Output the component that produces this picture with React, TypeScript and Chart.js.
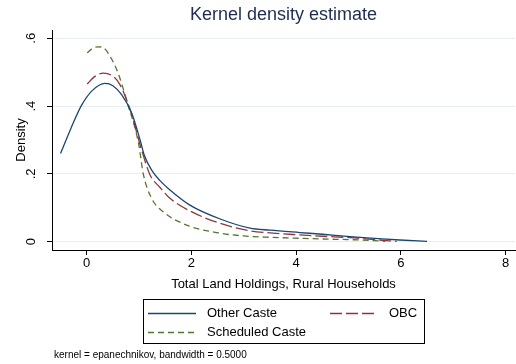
import React, { useEffect, useRef } from "react";
import { Chart, registerables } from "chart.js";

Chart.register(...registerables);

const OTHER_X = [-0.5, -0.3, -0.1, 0.1, 0.35, 0.5, 0.67, 0.86, 1.02, 1.1, 1.24, 1.4, 1.59, 1.97, 2.55, 3.12, 3.5, 4.07, 4.5, 5.03, 5.5, 5.98, 6.5];
const OTHER_Y = [0.26, 0.335, 0.402, 0.445, 0.467, 0.46, 0.433, 0.379, 0.3, 0.255, 0.211, 0.18, 0.1525, 0.108, 0.067, 0.04, 0.034, 0.027, 0.022, 0.015, 0.01, 0.005, 0.001];

const OBC_X = [0.01, 0.15, 0.32, 0.51, 0.64, 0.83, 1.05, 1.21, 1.4, 1.59, 2.0, 2.55, 3.12, 3.5, 4.07, 4.5, 5.03, 5.5, 5.92];
const OBC_Y = [0.465, 0.487, 0.497, 0.487, 0.462, 0.389, 0.27, 0.197, 0.16, 0.128, 0.0885, 0.054, 0.032, 0.026, 0.02, 0.016, 0.012, 0.006, 0.001];

const SC_X = [0.01, 0.1, 0.22, 0.33, 0.45, 0.6, 0.76, 0.99, 1.08, 1.24, 1.46, 1.91, 2.55, 3.0, 3.5, 4.07, 4.5, 5.03, 5.5, 5.7];
const SC_Y = [0.557, 0.569, 0.575, 0.571, 0.546, 0.497, 0.418, 0.29, 0.2, 0.128, 0.0885, 0.049, 0.025, 0.017, 0.013, 0.01, 0.008, 0.006, 0.003, 0.001];

const SERIES_NAMES = ["Other Caste", "OBC", "Scheduled Caste"];
const X_TICKS = [0, 2, 4, 6, 8];
const Y_TICKS = [0, 0.2, 0.4, 0.6];
const Y_TICK_LABELS = ["0", ".2", ".4", ".6"];
const TITLE = "Kernel density estimate";
const X_TITLE = "Total Land Holdings, Rural Households";
const Y_TITLE = "Density";
const NOTE = "kernel = epanechnikov, bandwidth = 0.5000";

const FONT = '"Liberation Sans", Arial, sans-serif';

const pts = (xs: number[], ys: number[]) => xs.map((x, i) => ({ x, y: ys[i] }));

const overlay = {
  id: "overlay",
  afterDraw(chart: any) {
    const ctx = chart.ctx;
    const ys = chart.scales.y;
    const ca = chart.chartArea;
    ctx.save();
    // title
    ctx.fillStyle = "#1e2d4f";
    ctx.font = `18px ${FONT}`;
    ctx.textAlign = "center";
    ctx.textBaseline = "middle";
    ctx.fillText(TITLE, (ca.left + ca.right) / 2, 15);

    // y tick labels rotated
    ctx.fillStyle = "#000";
    ctx.font = `13px ${FONT}`;
    Y_TICKS.forEach((v, i) => {
      const py = ys.getPixelForValue(v);
      ctx.save();
      ctx.translate(31, py);
      ctx.rotate(-Math.PI / 2);
      ctx.fillText(Y_TICK_LABELS[i], 0, 0);
      ctx.restore();
    });
    // y title
    ctx.save();
    ctx.translate(21, (ca.top + ca.bottom) / 2);
    ctx.rotate(-Math.PI / 2);
    ctx.fillText(Y_TITLE, 0, 0);
    ctx.restore();
    // x title
    ctx.fillText(X_TITLE, (ca.left + ca.right) / 2, 284);

    // legend box
    ctx.strokeStyle = "#000";
    ctx.lineWidth = 1;
    ctx.strokeRect(143.5, 299.5, 281, 44);
    const items = [
      { ds: 0, x: 148, y: 313 },
      { ds: 1, x: 330, y: 313 },
      { ds: 2, x: 148, y: 332 },
    ];
    items.forEach((it) => {
      const ds = chart.data.datasets[it.ds];
      ctx.save();
      ctx.strokeStyle = ds.borderColor;
      ctx.lineWidth = ds.borderWidth;
      ctx.setLineDash(ds.borderDash || []);
      ctx.beginPath();
      ctx.moveTo(it.x, it.y + 0.5);
      ctx.lineTo(it.x + 48, it.y + 0.5);
      ctx.stroke();
      ctx.restore();
      ctx.fillStyle = "#000";
      ctx.textAlign = "left";
      ctx.fillText(ds.label, it.x + 59, it.y);
    });

    // note
    ctx.font = `10px ${FONT}`;
    ctx.textAlign = "left";
    ctx.fillText(NOTE, 54, 355);
    ctx.restore();
  },
};

export default function App() {
  const ref = useRef<HTMLCanvasElement>(null);
  useEffect(() => {
    if (!ref.current) return;
    Chart.defaults.font.family = FONT;
    const chart = new Chart(ref.current, {
      type: "line",
      data: {
        datasets: [
          {
            label: SERIES_NAMES[0],
            data: pts(OTHER_X, OTHER_Y),
            borderColor: "#1a476f",
            borderWidth: 1.3,
            pointRadius: 0,
            cubicInterpolationMode: "monotone",
          },
          {
            label: SERIES_NAMES[1],
            data: pts(OBC_X, OBC_Y),
            borderColor: "#90353b",
            borderWidth: 1.3,
            borderDash: [12, 4],
            pointRadius: 0,
            cubicInterpolationMode: "monotone",
          },
          {
            label: SERIES_NAMES[2],
            data: pts(SC_X, SC_Y),
            borderColor: "#55752f",
            borderWidth: 1.3,
            borderDash: [6, 4],
            pointRadius: 0,
            cubicInterpolationMode: "monotone",
          },
        ],
      },
      plugins: [overlay],
      options: {
        animation: false,
        responsive: false,
        devicePixelRatio: 1,
        layout: { padding: { top: 30, right: 1, left: 0, bottom: 0 } },
        plugins: { legend: { display: false }, title: { display: false }, tooltip: { enabled: false } },
        scales: {
          x: {
            type: "linear",
            min: -0.663,
            max: 8.18,
            afterBuildTicks: (s: any) => {
              s.ticks = X_TICKS.map((v) => ({ value: v }));
            },
            afterFit: (s: any) => {
              s.height = 114;
            },
            ticks: {
              color: "#000",
              font: { size: 13, family: FONT },
              padding: 1,
              maxRotation: 0,
              callback: (v: any) => String(v),
            },
            grid: { drawOnChartArea: false, drawTicks: true, tickLength: 5, color: "#000", tickColor: "#000" },
            border: { display: true, color: "#000", width: 1 },
          },
          y: {
            type: "linear",
            min: -0.0245,
            max: 0.6245,
            afterBuildTicks: (s: any) => {
              s.ticks = Y_TICKS.map((v) => ({ value: v }));
            },
            afterFit: (s: any) => {
              s.width = 52;
            },
            ticks: { display: false },
            grid: { drawOnChartArea: true, drawTicks: true, tickLength: 5, color: "#e6eef1", tickColor: "#000" },
            border: { display: true, color: "#000", width: 1 },
          },
        },
      },
    } as any);
    return () => chart.destroy();
  }, []);
  return (
    <div style={{ position: "fixed", left: 0, top: 0, width: 516, height: 364, background: "#fff" }}>
      <canvas ref={ref} width={516} height={364} style={{ display: "block" }} />
    </div>
  );
}
